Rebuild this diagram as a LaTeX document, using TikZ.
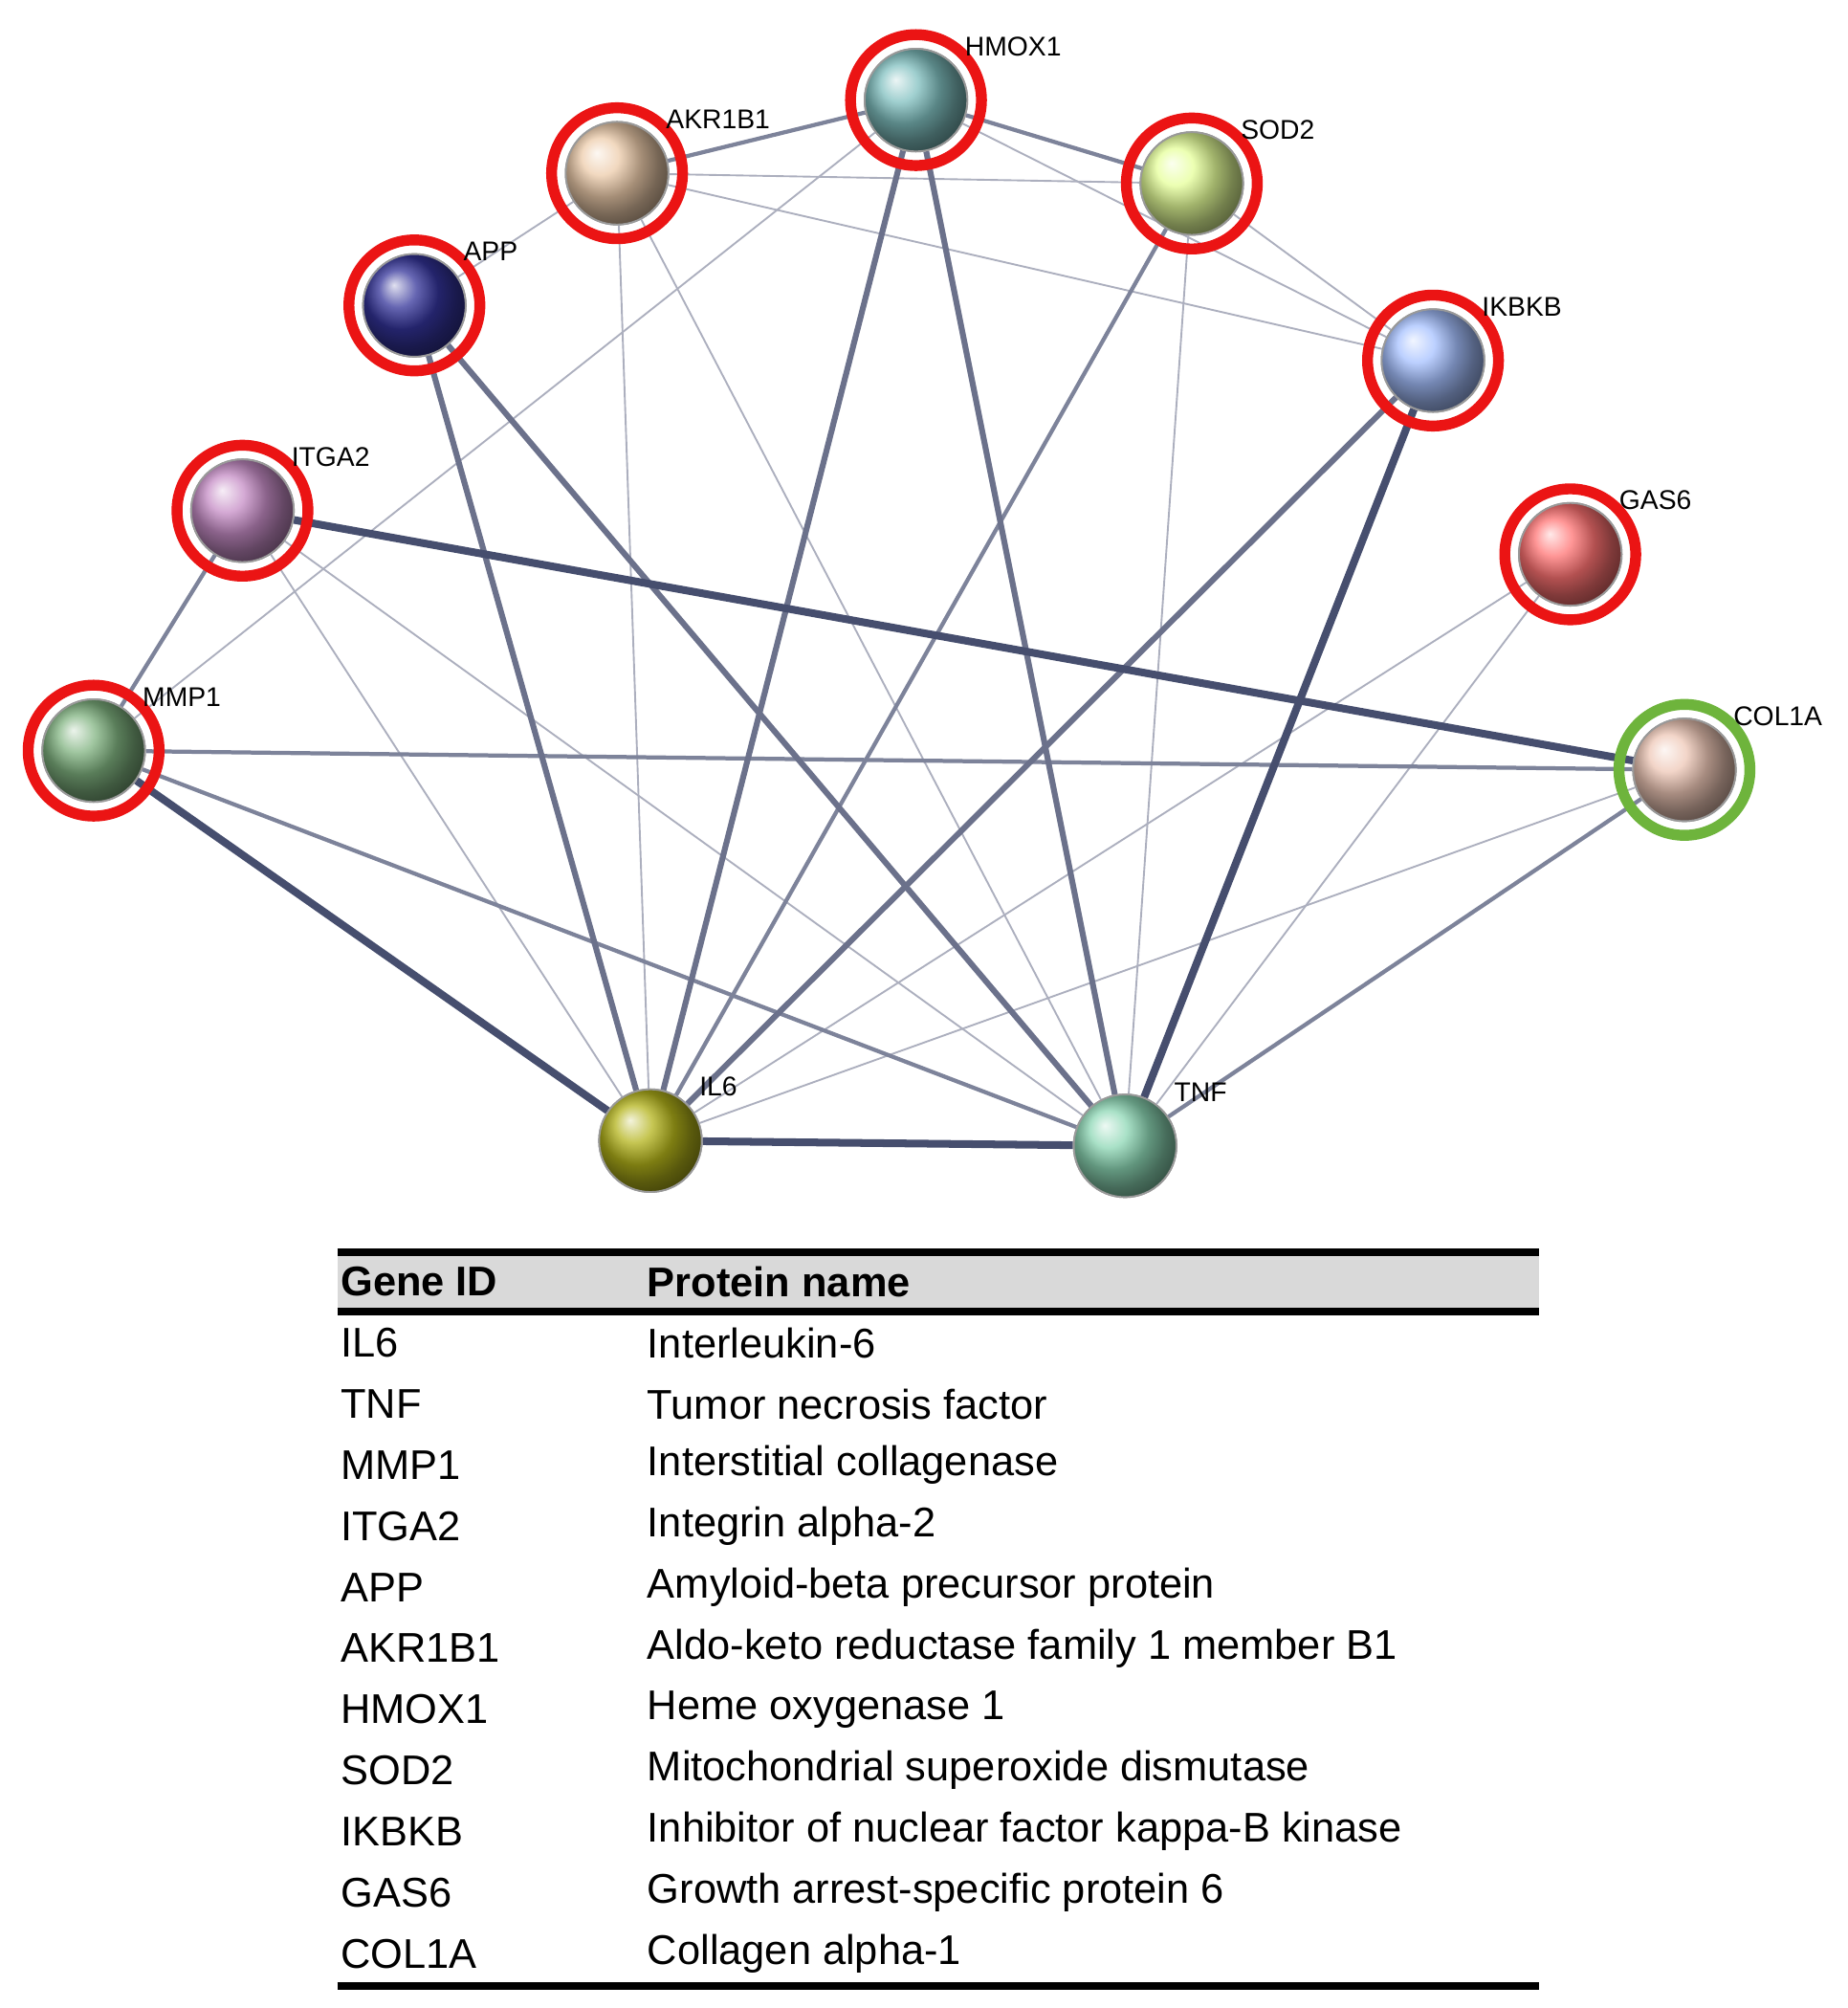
\documentclass[tikz,border=0pt]{standalone}
\usepackage{fontspec}
\setmainfont{Liberation Sans}
\usetikzlibrary{positioning}
\definecolor{edgec}{RGB}{70,78,110}
\definecolor{ringred}{RGB}{235,20,20}
\definecolor{ringgreen}{RGB}{110,180,60}
\begin{document}
\begin{tikzpicture}[x=0.01cm,y=-0.01cm,
        ball/.style={circle, minimum size=0.8cm, inner sep=0pt, draw=black!40, thin},
        ring/.style={circle, minimum size=1.02cm, inner sep=0pt, draw=ringred, line width=0.085cm},
        gene/.style={font=\fontsize{6}{7}\selectfont, inner sep=1pt},
        weak/.style={edgec!45, line width=0.4},
        mid/.style={edgec!70, line width=0.9},
        strong/.style={edgec, line width=1.7},
        row/.style={font=\fontsize{9.2}{10}\selectfont, anchor=west, inner sep=0pt}
      ]
        \useasboundingbox (0,0) rectangle (1440,1565);

        % protein nodes
        \foreach \name/\x/\y/\col in {HMOX1/714/78/teal!50, AKR1B1/481/135/orange!30!brown!40, SOD2/929/143/green!25!yellow!40,
            APP/323/238/blue!50!black!80, IKBKB/1117/281/cyan!30!blue!35, ITGA2/189/398/violet!45,
            GAS6/1224/432/red!55, MMP1/73/585/green!40!black!50, COL1A/1313/600/red!25!brown!35,
            IL6/507/889/olive!60, TNF/877/893/green!30!teal!45}
          \node[ball, ball color=\col] (\name) at (\x,\y) {};

        % interactions
        \foreach \a/\b in {AKR1B1/APP, AKR1B1/IL6, AKR1B1/TNF, AKR1B1/SOD2, AKR1B1/IKBKB, HMOX1/IKBKB,
            SOD2/IKBKB, MMP1/HMOX1, ITGA2/IL6, ITGA2/TNF, GAS6/IL6, GAS6/TNF, SOD2/TNF, COL1A/IL6}
          \draw[weak] (\a) -- (\b);
        \foreach \a/\b in {AKR1B1/HMOX1, HMOX1/SOD2, SOD2/IL6, MMP1/COL1A, MMP1/TNF, MMP1/ITGA2, COL1A/TNF}
          \draw[mid] (\a) -- (\b);
        \foreach \a/\b in {HMOX1/IL6, HMOX1/TNF, APP/IL6, APP/TNF, IKBKB/IL6}
          \draw[edgec!80, line width=1.3] (\a) -- (\b);
        \foreach \a/\b in {ITGA2/COL1A, MMP1/IL6, IL6/TNF, IKBKB/TNF}
          \draw[strong] (\a) -- (\b);

        % redraw balls on top, with rings and labels
        \foreach \name/\col in {HMOX1/teal!50, AKR1B1/orange!30!brown!40, SOD2/green!25!yellow!40,
            APP/blue!50!black!80, IKBKB/cyan!30!blue!35, ITGA2/violet!45,
            GAS6/red!55, MMP1/green!40!black!50, COL1A/red!25!brown!35,
            IL6/olive!60, TNF/green!30!teal!45}
          \node[ball, ball color=\col] at (\name) {};
        \foreach \name in {HMOX1, AKR1B1, SOD2, APP, IKBKB, ITGA2, GAS6, MMP1}
          \node[ring] at (\name) {};
        \node[ring, draw=ringgreen] at (COL1A) {};

        \foreach \name in {HMOX1, AKR1B1, SOD2, APP, IKBKB, ITGA2, GAS6, MMP1, COL1A, IL6, TNF}
          \node[gene, anchor=west] at ([xshift=0.34cm,yshift=0.42cm]\name.center) {\name};

        % table
        \fill[black!15] (263,978) rectangle (1200,1021);
        \draw[line width=1.6] (263,976) -- (1200,976);
        \draw[line width=1.6] (263,1022) -- (1200,1022);
        \node[row, font=\fontsize{9.2}{10}\selectfont\bfseries] (hgene) at (265,999) {Gene ID};
        \node[row, font=\fontsize{9.2}{10}\selectfont\bfseries] (hprot) at (504,999) {Protein name};
        \foreach \g/\p [count=\i] in {IL6/Interleukin-6, TNF/Tumor necrosis factor, MMP1/Interstitial collagenase,
            ITGA2/Integrin alpha-2, APP/Amyloid-beta precursor protein, AKR1B1/Aldo-keto reductase family 1 member B1,
            HMOX1/Heme oxygenase 1, SOD2/Mitochondrial superoxide dismutase, IKBKB/Inhibitor of nuclear factor kappa-B kinase,
            GAS6/Growth arrest-specific protein 6, COL1A/Collagen alpha-1}
        {
          \node[row] at (265,{999+47.6*\i}) {\g};
          \node[row] at (504,{999+47.6*\i}) {\p};
        }
        \draw[line width=1.6] (263,1548) -- (1200,1548);
      \end{tikzpicture}
\end{document}
